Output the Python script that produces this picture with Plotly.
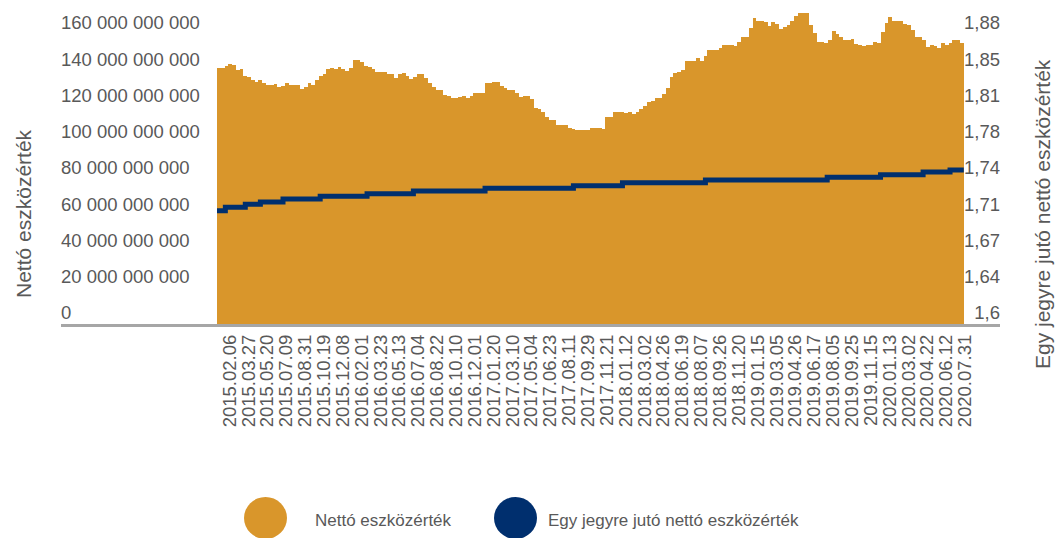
import plotly.graph_objects as go

# ---------------- data ----------------
tick_dates = ["2015.02.06", "2015.03.27", "2015.05.20", "2015.07.09", "2015.08.31",
              "2015.10.19", "2015.12.08", "2016.02.01", "2016.03.23", "2016.05.13",
              "2016.07.04", "2016.08.22", "2016.10.10", "2016.12.01", "2017.01.20",
              "2017.03.10", "2017.05.04", "2017.06.23", "2017.08.11", "2017.09.29",
              "2017.11.21", "2018.01.12", "2018.03.02", "2018.04.26", "2018.06.19",
              "2018.08.07", "2018.09.26", "2018.11.20", "2019.01.15", "2019.03.05",
              "2019.04.26", "2019.06.17", "2019.08.05", "2019.09.25", "2019.11.15",
              "2020.01.13", "2020.03.02", "2020.04.22", "2020.06.12", "2020.07.31"]

# Nettó eszközérték (billion HUF), one reading per 7 trading days
nav_bn = [
    141.4, 141.4, 142.3, 143.4, 142.9, 140.1, 140.7, 137.0, 136.3, 134.6,
    133.5, 134.4, 133.1, 131.9, 131.9, 132.2, 130.6, 131.3, 133.1, 131.9,
    131.9, 131.9, 129.8, 130.6, 133.1, 131.9, 134.6, 136.6, 137.9, 140.7,
    141.4, 140.7, 142.0, 140.7, 139.4, 141.1, 145.6, 145.6, 144.4, 142.3,
    141.8, 140.7, 139.0, 139.0, 139.0, 137.9, 137.9, 135.9, 137.9, 138.7,
    137.0, 135.2, 136.3, 137.9, 137.9, 135.5, 132.8, 130.9, 129.1, 129.1,
    126.3, 125.8, 124.7, 124.7, 125.4, 125.8, 124.9, 125.8, 127.4, 127.4,
    127.4, 133.1, 133.1, 133.5, 133.5, 131.3, 130.2, 129.1, 129.1, 127.4,
    125.2, 125.8, 125.8, 124.3, 119.0, 118.6, 117.0, 114.4, 112.5, 112.5,
    109.8, 109.6, 109.8, 108.1, 107.4, 107.0, 107.2, 107.0, 107.0, 108.1,
    107.9, 108.1, 107.4, 114.2, 114.2, 117.0, 117.0, 117.0, 116.6, 117.0,
    115.9, 117.0, 118.6, 120.3, 122.7, 123.0, 124.7, 124.7, 127.1, 130.2,
    136.3, 138.5, 139.0, 140.3, 145.1, 145.1, 145.1, 146.8, 145.1, 148.0,
    151.2, 151.2, 151.2, 152.3, 153.9, 153.9, 153.9, 153.6, 155.4, 158.3,
    158.3, 163.1, 168.8, 167.2, 167.2, 166.4, 164.4, 166.4, 165.5, 162.8,
    164.0, 165.0, 167.2, 169.9, 171.6, 171.6, 171.6, 165.0, 160.4,
    155.6, 155.6, 155.0, 156.7, 161.6, 159.8, 158.3, 156.7, 156.7, 157.1,
    154.7, 153.9, 153.6, 153.9, 153.9, 155.8, 154.8, 161.3, 165.9, 169.6,
    167.2, 167.2, 167.2, 165.5, 165.0, 162.2, 158.3, 158.3, 156.7, 153.0,
    153.9, 153.6, 152.3, 155.2, 153.9, 154.8, 156.7, 156.7, 154.8,
]

# Egy jegyre jutó nettó eszközérték: trading day when each level starts
unit_start_day = [0, 15, 52, 80, 122, 191, 278, 364, 497, 661, 752, 906,
                  1132, 1231, 1310, 1360]
unit_nav = [1.7094, 1.7127, 1.7156, 1.7178, 1.7207, 1.7233, 1.7258, 1.7284,
            1.7310, 1.7335, 1.7364, 1.7390, 1.7416, 1.7441, 1.7468, 1.7487]

left_tick_vals = [0, 20e9, 40e9, 60e9, 80e9, 100e9, 120e9, 140e9, 160e9]
left_tick_text = ["0", "20 000 000 000", "40 000 000 000", "60 000 000 000",
                  "80 000 000 000", "100 000 000 000", "120 000 000 000",
                  "140 000 000 000", "160 000 000 000"]
right_tick_vals = [1.6, 1.635, 1.67, 1.705, 1.74, 1.775, 1.81, 1.845, 1.88]
right_tick_text = ["1,6", "1,64", "1,67", "1,71", "1,74", "1,78", "1,81", "1,85", "1,88"]

series_names = ["Nettó eszközérték", "Egy jegyre jutó nettó eszközérték"]

# ---------------- styling / layout ----------------
W, H = 1055, 538
ML, MR, MT, MB = 61, 55, 5, 214
PW, PH = W - ML - MR, H - MT - MB
ORANGE = "#D9962B"
NAVY = "#002F6E"
TXT = "#595959"
FONT = "Liberation Sans"

STEP = 7          # trading days per reading
LABEL_EVERY = 35  # trading days between labels
FIRST_LABEL = 23
n_days = len(nav_bn) * STEP

bar_x = [i * STEP + (STEP - 1) / 2 for i in range(len(nav_bn))]
bar_y = [v * 1e9 for v in nav_bn]
tick_pos = [FIRST_LABEL + LABEL_EVERY * k for k in range(len(tick_dates))]

line_x = [-0.5] + unit_start_day[1:] + [n_days - 0.5]
line_y = unit_nav + [unit_nav[-1]]

px_per_day = 0.5388
x0 = -0.5 - (217 - ML) / px_per_day
x1 = x0 + PW / px_per_day


def pxx(p):
    return (p - ML) / PW


def pxy(p):
    return (H - MB - p) / PH


fig = go.Figure()
fig.add_trace(go.Bar(x=bar_x, y=bar_y, width=STEP, marker=dict(color=ORANGE, line=dict(width=0)),
                     name=series_names[0], showlegend=False, hoverinfo="skip"))
fig.add_trace(go.Scatter(x=line_x, y=line_y, yaxis="y2", mode="lines",
                         line=dict(color=NAVY, width=5, shape="hv"),
                         name=series_names[1], showlegend=False, hoverinfo="skip"))
# invisible anchor trace for the date-label axis
fig.add_trace(go.Scatter(x=[tick_pos[0]], y=[0], xaxis="x2", yaxis="y", mode="markers",
                         marker=dict(opacity=0, size=1), showlegend=False, hoverinfo="skip"))

shapes = []
annotations = []
for cx, col, tx, label in [(265.5, ORANGE, 313, series_names[0]), (515.5, NAVY, 546, series_names[1])]:
    shapes.append(dict(type="circle", xref="paper", yref="paper",
                       x0=pxx(cx - 21.5), x1=pxx(cx + 21.5), y0=pxy(497), y1=pxy(539),
                       fillcolor=col, line=dict(width=0)))
    annotations.append(dict(text=label, xref="paper", yref="paper", x=pxx(tx), y=pxy(520),
                            xanchor="left", yanchor="middle", showarrow=False,
                            font=dict(family=FONT, size=17, color=TXT)))

annotations.append(dict(text="Nettó eszközérték", xref="paper", yref="paper",
                        x=pxx(23), y=pxy(214), textangle=-90, showarrow=False,
                        xanchor="center", yanchor="middle",
                        font=dict(family=FONT, size=21, color=TXT)))
annotations.append(dict(text="Egy jegyre jutó nettó eszközérték", xref="paper", yref="paper",
                        x=pxx(1042), y=pxy(214), textangle=-90, showarrow=False,
                        xanchor="center", yanchor="middle",
                        font=dict(family=FONT, size=21, color=TXT)))

fig.update_layout(
    width=W, height=H,
    margin=dict(l=ML, r=MR, t=MT, b=MB, pad=0),
    paper_bgcolor="white", plot_bgcolor="white",
    bargap=0, showlegend=False, hovermode=False,
    font=dict(family=FONT, color=TXT),
    shapes=shapes, annotations=annotations,
    xaxis=dict(range=[x0, x1], showticklabels=False,
               showgrid=False, zeroline=False, showline=True,
               linecolor="#A6A6A6", linewidth=3, ticks="", automargin=False),
    xaxis2=dict(range=[x0, x1], overlaying="x", anchor="y", side="bottom",
                tickmode="array", tickvals=tick_pos, ticktext=tick_dates,
                tickangle=-90, showgrid=False, zeroline=False, showline=False,
                ticks="", automargin=False, ticklabelstandoff=6,
                tickfont=dict(family=FONT, size=18.5, color=TXT)),
    yaxis=dict(range=[0, 176e9], tickmode="array", tickvals=left_tick_vals,
               ticktext=left_tick_text, showgrid=False, zeroline=False, showline=False,
               ticks="", ticklabelposition="inside", ticklabelshift=-11,
               ticklabelstandoff=-3, automargin=False,
               tickfont=dict(family=FONT, size=18.5, color=TXT)),
    yaxis2=dict(range=[1.6, 1.908], overlaying="y", side="right", tickmode="array",
                tickvals=right_tick_vals, ticktext=right_tick_text, showgrid=False,
                zeroline=False, showline=False, ticks="", ticklabelposition="inside",
                ticklabelshift=-11, ticklabelstandoff=-3, automargin=False,
                tickfont=dict(family=FONT, size=18.5, color=TXT)),
)

fig.write_html("out.html", config={"displayModeBar": False},
               post_script="document.body.style.margin='0';"
                           "document.documentElement.style.overflow='hidden';")
